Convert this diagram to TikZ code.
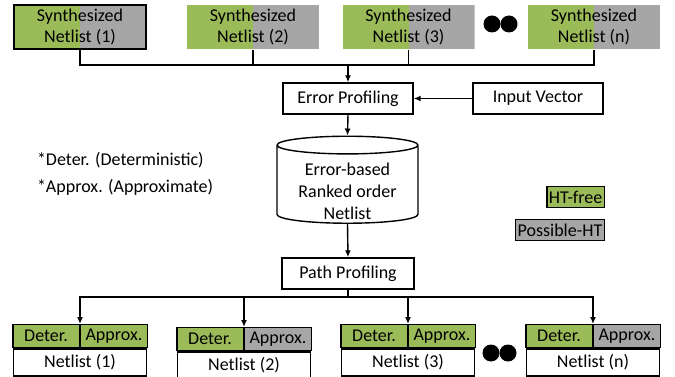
\documentclass[tikz,border=0pt]{standalone}
\usepackage{fontspec}
\setmainfont{Carlito}
\usetikzlibrary{arrows.meta, shapes.geometric, calc}
\definecolor{htgreen}{HTML}{9BBB59}
\definecolor{htgray}{HTML}{A6A6A6}

\tikzset{
  synbox/.style={minimum width=132pt, minimum height=44pt, inner sep=0pt, align=center,
    path picture={\fill[htgreen] (path picture bounding box.south west) rectangle (path picture bounding box.north);
      \fill[htgray] (path picture bounding box.south) rectangle (path picture bounding box.north east);}},
  procbox/.style={draw, minimum width=130pt, minimum height=31pt, inner sep=0pt},
  tagbox/.style={draw, minimum width=66.5pt, minimum height=23pt, inner sep=0pt},
  netbox/.style={draw, minimum width=133pt, minimum height=27pt, inner sep=0pt},
  legbox/.style={draw, minimum height=21pt, inner xsep=2pt, inner ysep=0pt}
}

\begin{document}
\begin{tikzpicture}[x=1pt, y=-1pt, line width=1.4pt, font=\fontsize{18}{21.6}\selectfont, >={Latex[length=7pt,width=6pt]}]
    \useasboundingbox (0,0) rectangle (675,377);

    % synthesized netlists
    \node[synbox, draw] (syn1) at (80,27) {Synthesized\\Netlist (1)};
    \node[synbox] (syn2) at (253,27) {Synthesized\\Netlist (2)};
    \node[synbox] (syn3) at (408.5,27) {Synthesized\\Netlist (3)};
    \node[synbox] (synn) at (594,27) {Synthesized\\Netlist (n)};
    \fill (492,24) circle (8.5pt);
    \fill (509,24) circle (8.5pt);

    % profiling flow
    \node[procbox] (err) at (348,98.5) {Error Profiling};
    \node[procbox] (inp) at (538,98.5) {Input Vector};
    \node[draw, cylinder, shape border rotate=90, aspect=0.18, minimum width=141pt, minimum height=87pt,
      inner sep=0pt] (rank) at (347.5,184.5)
      {\raisebox{-13pt}[0pt][0pt]{\begin{tabular}{@{}c@{}}Error-based\\Ranked order\\Netlist\end{tabular}}};
    \node[procbox, minimum width=132pt] (path) at (348,273.5) {Path Profiling};

    \coordinate (topbus) at (348,65);
    \coordinate (botbus) at (348,297);
    \draw (syn1.south) |- (topbus) -| (synn.south);
    \draw (syn2.south) -- (syn2.south |- topbus);
    \draw (syn3.south) -- (syn3.south |- topbus);
    \draw[->] (topbus) -- (err.north);
    \draw[->] (inp.west) -- (err.east);
    \draw[->] (err.south) -- (rank.north);
    \draw[->] (rank.south) -- (path.north);

    % notes and legend
    \node[anchor=west] (note1) at (33,160) {*Deter. (Deterministic)};
    \node[anchor=west] (note2) at (33,187) {*Approx. (Approximate)};
    \node[legbox, fill=htgreen, anchor=east] (free) at (605,197) {HT-free};
    \node[legbox, fill=htgray, anchor=east] (poss) at (605,230) {Possible-HT};

    % profiled netlists
    \node[tagbox, fill=htgreen, anchor=north east] (d1) at (80,324) {Deter.};
    \node[tagbox, fill=htgreen, anchor=north west] (a1) at (80,324) {Approx.};
    \node[netbox, anchor=north] (n1) at (d1.south east) {Netlist (1)};
    \node[tagbox, fill=htgreen, anchor=north east] (d2) at (244,327) {Deter.};
    \node[tagbox, fill=htgray, anchor=north west] (a2) at (244,327) {Approx.};
    \node[netbox, anchor=north] (n2) at (d2.south east) {Netlist (2)};
    \node[tagbox, fill=htgreen, anchor=north east] (d3) at (408,324) {Deter.};
    \node[tagbox, fill=htgreen, anchor=north west] (a3) at (408,324) {Approx.};
    \node[netbox, anchor=north] (n3) at (d3.south east) {Netlist (3)};
    \node[tagbox, fill=htgreen, anchor=north east] (dn) at (593,324) {Deter.};
    \node[tagbox, fill=htgray, anchor=north west] (an) at (593,324) {Approx.};
    \node[netbox, anchor=north] (nn) at (dn.south east) {Netlist (n)};
    \fill (491,353) circle (8.5pt);
    \fill (508,353) circle (8.5pt);

    \draw (path.south) -- (botbus);
    \foreach \i in {1,2,3,n}
        \draw[->] (botbus) -| (d\i.north east);
\end{tikzpicture}
\end{document}
